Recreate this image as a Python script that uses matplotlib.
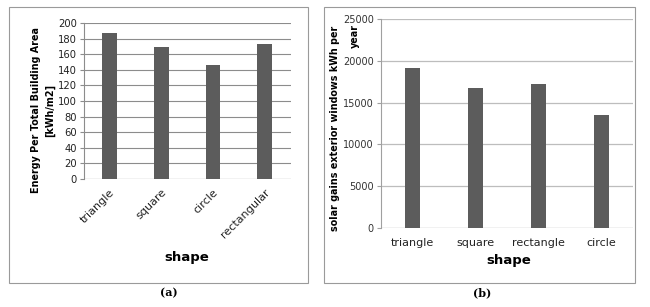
import numpy as np
import matplotlib.pyplot as plt
from matplotlib.patches import Rectangle

# data (a)
shapes_a = ['triangle', 'square', 'circle', 'rectangular']
energy_a = [187, 169.5, 146.5, 173]

# data (b)
shapes_b = ['triangle', 'square', 'rectangle', 'circle']
solar_b = [19100, 16800, 17250, 13550]

bar_color = '#5c5c5c'

fig = plt.figure(figsize=(6.5, 3.07), dpi=100)
fig.patch.set_facecolor('white')

# outer frames
for x0, w in [(0.0138, 0.46), (0.498, 0.479)]:
    fig.patches.append(Rectangle((x0, 0.078), w, 0.899,
                                 transform=fig.transFigure, fill=False,
                                 edgecolor='#9a9a9a', linewidth=0.8))

# panel (a)
ax1 = fig.add_axes([0.129, 0.417, 0.318, 0.508])
x = np.arange(len(shapes_a))
ax1.bar(x, energy_a, width=0.28, color=bar_color, zorder=3)
ax1.set_xlim(-0.5, len(shapes_a) - 0.5)
ax1.set_ylim(0, 200)
ax1.set_yticks(np.arange(0, 201, 20))
ax1.grid(axis='y', color='#8c8c8c', linewidth=0.8, zorder=0)
for s in ['top', 'right', 'bottom']:
    ax1.spines[s].set_visible(False)
ax1.spines['left'].set_color('#8c8c8c')
ax1.axhline(0, color='#8c8c8c', linewidth=0.8, zorder=2)
ax1.tick_params(axis='y', length=3, color='#8c8c8c', labelsize=7.2, labelcolor='#222222', pad=2)
ax1.set_xticks(x)
ax1.set_xticklabels(shapes_a, rotation=45, ha='right', rotation_mode='anchor', fontsize=8, color='#222222')
ax1.tick_params(axis='x', length=0, pad=6)
ax1.set_ylabel('Energy Per Total Building Area\n[kWh/m2]', fontsize=6.9, fontweight='bold',
               linespacing=1.5)
ax1.yaxis.set_label_coords(-0.14, 0.44)
fig.text(0.288, 0.16, 'shape', ha='center', va='center', fontsize=9.5, fontweight='bold')
fig.text(0.259, 0.045, '(a)', ha='center', va='center', fontsize=8, fontweight='bold', family='DejaVu Serif')

# panel (b)
ax2 = fig.add_axes([0.586, 0.257, 0.388, 0.681])
x = np.arange(len(shapes_b))
ax2.bar(x, solar_b, width=0.25, color=bar_color, zorder=3)
ax2.set_xlim(-0.5, len(shapes_b) - 0.5)
ax2.set_ylim(0, 25000)
ax2.set_yticks(np.arange(0, 25001, 5000))
ax2.grid(axis='y', color='#bdbdbd', linewidth=0.9, zorder=0)
for s in ['top', 'right', 'bottom']:
    ax2.spines[s].set_visible(False)
ax2.spines['left'].set_color('#a0a0a0')
ax2.axhline(0, color='#a0a0a0', linewidth=0.8, zorder=2)
ax2.tick_params(axis='y', length=3, color='#a0a0a0', labelsize=7, labelcolor='#333333', pad=2)
ax2.set_xticks(x)
ax2.set_xticklabels(shapes_b, fontsize=8, color='#222222')
ax2.tick_params(axis='x', length=0, pad=7)
# y label wraps in the original: second line sits between the top tick labels
fig.text(0.515, 0.583, 'solar gains exterior windows kWh per', rotation=90,
         ha='center', va='center', fontsize=6.9, fontweight='bold')
fig.text(0.546, 0.884, 'year', rotation=90, ha='center', va='center',
         fontsize=6.9, fontweight='bold')
fig.text(0.782, 0.153, 'shape', ha='center', va='center', fontsize=9.5, fontweight='bold')
fig.text(0.742, 0.045, '(b)', ha='center', va='center', fontsize=8, fontweight='bold', family='DejaVu Serif')

fig.savefig('out.png', dpi=100)
